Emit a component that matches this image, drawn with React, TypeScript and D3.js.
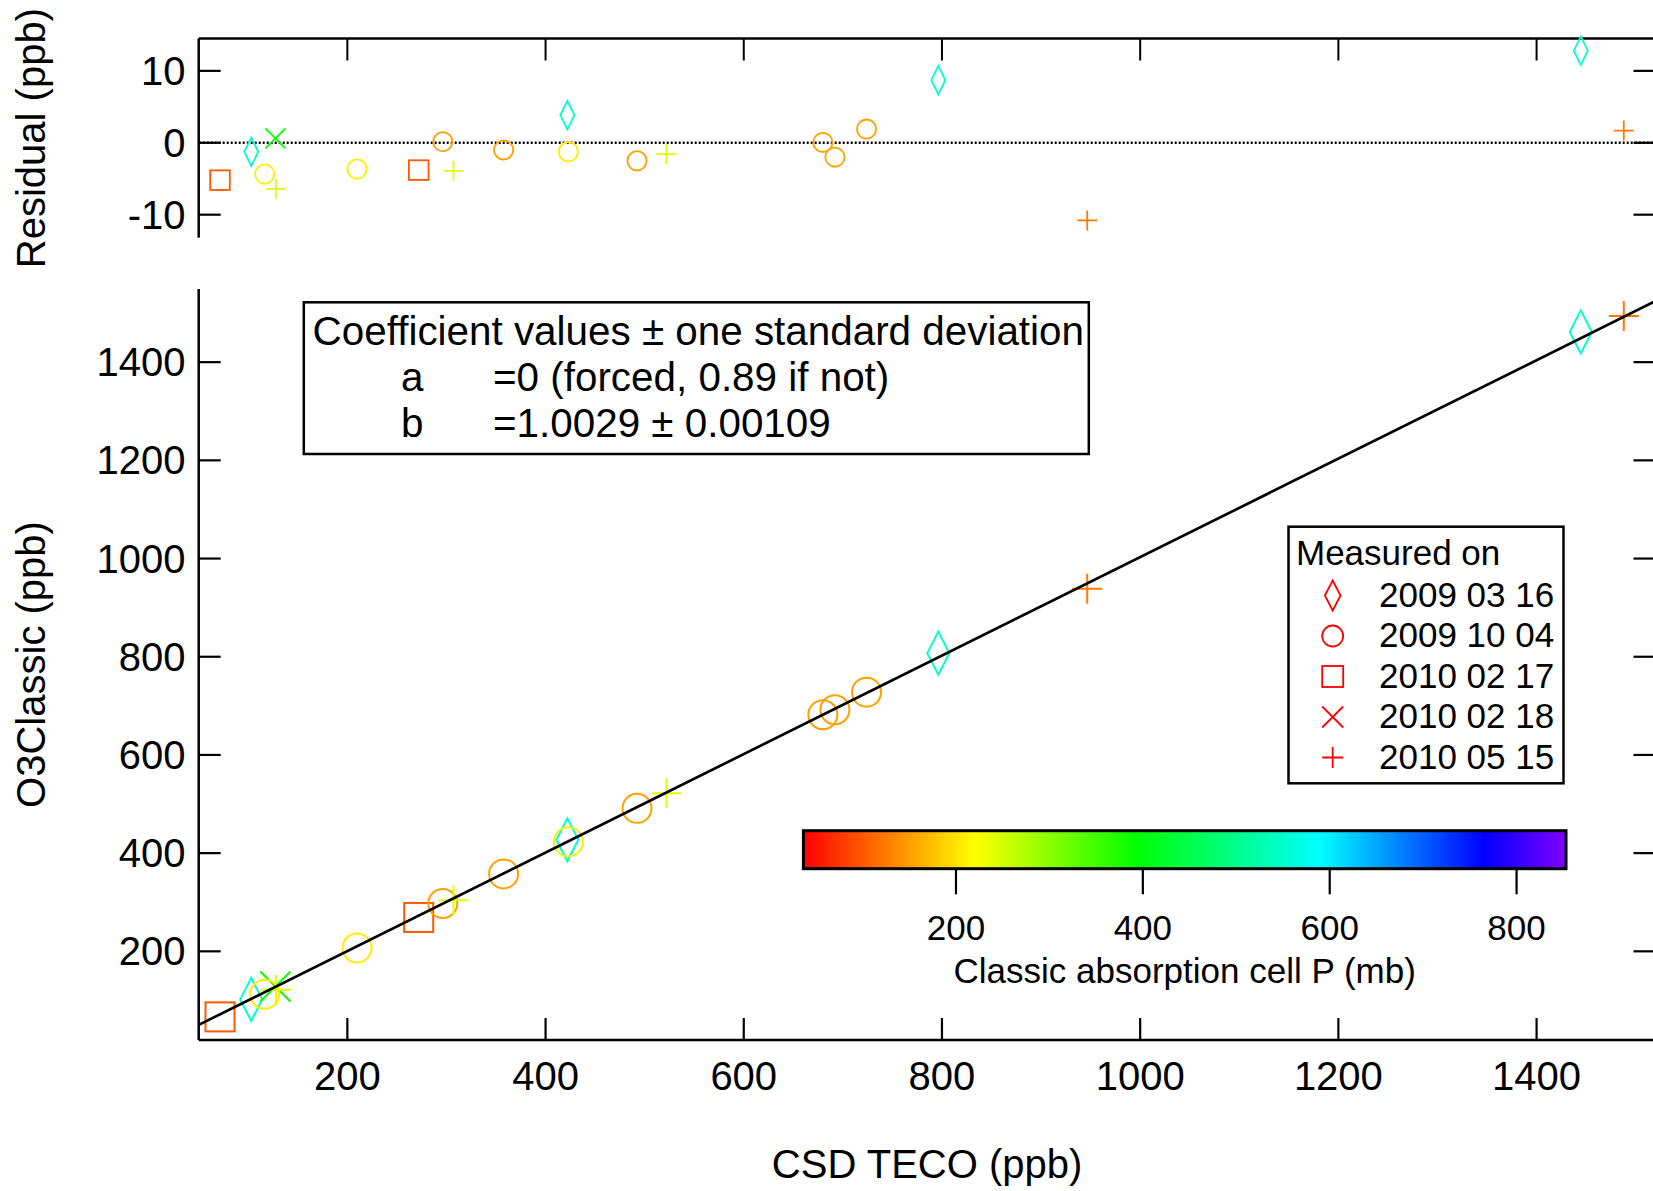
import React from "react";
import * as d3 from "d3";

// measurement dates (one symbol each)
const dates = ["2009 03 16", "2009 10 04", "2010 02 17", "2010 02 18", "2010 05 15"];
const shapes = ["diamond", "circle", "square", "cross", "plus"];

// points
const csdTeco = [71.5, 103, 127.4, 116.6, 127.9, 209.8, 272, 296.3, 307.1, 357.7, 422, 423, 492.3, 522, 679.8, 692, 723.9, 796.3, 946.6, 1444.6, 1488];
const o3Classic = [66.5, 102.1, 128.4, 112.6, 121.9, 206.8, 269.0, 297.3, 304.1, 357.7, 427.1, 423.0, 491.2, 521.9, 681.8, 692.0, 727.9, 807.3, 938.5, 1461.6, 1494.0];
const residual = [-5.2, -1.25, 0.6, -4.35, -6.4, -3.65, -3.8, 0.15, -3.9, -1.0, 3.85, -1.25, -2.5, -1.57, 0.05, -2.0, 1.9, 8.7, -10.8, 12.8, 1.7];
const dateIndex = [2, 0, 3, 1, 4, 1, 2, 1, 4, 1, 0, 1, 1, 4, 1, 1, 1, 0, 4, 0, 4];
const pressure = [100, 553, 385, 208, 241, 208, 100, 152, 241, 152, 553, 208, 152, 241, 152, 152, 152, 553, 124, 553, 124];

const slope = 1.0029;

const xTicks = [200, 400, 600, 800, 1000, 1200, 1400];
const yTicks = [200, 400, 600, 800, 1000, 1200, 1400];
const resTicks = [-10, 0, 10];
const pTicks = [200, 400, 600, 800];

// rainbow colour table stops (pressure, colour)
const rainbowStops = [37, 220, 393, 589, 765, 853];
const rainbowColors = ["#ff0000", "#ffff00", "#00ff00", "#00ffff", "#0000ff", "#8000ff"];

const FONT = "'Liberation Sans', Arial, Helvetica, sans-serif";

const W = 1653;
const H = 1191;

const x = d3.scaleLinear().domain([50, 1520]).range([198.7, 1655.5]);
const y = d3.scaleLinear().domain([19.4, 1549]).range([1040, 289]);
const yr = d3.scaleLinear().domain([-13.2, 14.5]).range([237.7, 38.5]);
const xp = d3.scaleLinear().domain([36.7, 852.9]).range([803.4, 1566]);
const color = d3.scaleLinear<string>().domain(rainbowStops).range(rainbowColors).interpolate(d3.interpolateRgb);

const mainSize = { r: 14.5, sq: 14.5, cr: 15, pl: 15, dw: 11, dh: 21.5 };
const resSize = { r: 9.6, sq: 9.8, cr: 10, pl: 10, dw: 7, dh: 14.3 };
const legSize = { r: 10.5, sq: 10.5, cr: 10.5, pl: 10.5, dw: 7.8, dh: 15 };

const Marker = ({ shape, cx, cy, s, stroke, sw }) => {
  const common = { fill: "none", stroke, strokeWidth: sw };
  if (shape === "circle") return <circle cx={cx} cy={cy} r={s.r} {...common} />;
  if (shape === "square")
    return <rect x={cx - s.sq} y={cy - s.sq} width={2 * s.sq} height={2 * s.sq} {...common} />;
  if (shape === "diamond")
    return (
      <path
        d={`M${cx},${cy - s.dh}L${cx + s.dw},${cy}L${cx},${cy + s.dh}L${cx - s.dw},${cy}Z`}
        {...common}
      />
    );
  if (shape === "cross")
    return (
      <path
        d={`M${cx - s.cr},${cy - s.cr}L${cx + s.cr},${cy + s.cr}M${cx - s.cr},${cy + s.cr}L${cx + s.cr},${cy - s.cr}`}
        {...common}
      />
    );
  return (
    <path d={`M${cx - s.pl},${cy}L${cx + s.pl},${cy}M${cx},${cy - s.pl}L${cx},${cy + s.pl}`} {...common} />
  );
};

const App = () => {
  const [x0, x1] = x.range();
  const tick = 22;
  const axisW = 2.5;
  const fitLine = d3.line<number>().x((d) => x(d)).y((d) => y(slope * d));

  return (
    <svg
      width={W}
      height={H}
      style={{ position: "absolute", left: 0, top: 0, background: "#fff" }}
      fontFamily={FONT}
    >
      <defs>
        <linearGradient id="rainbow" x1="0" x2="1" y1="0" y2="0">
          {rainbowStops.map((p, i) => (
            <stop
              key={i}
              offset={(xp(p) - xp.range()[0]) / (xp.range()[1] - xp.range()[0])}
              stopColor={rainbowColors[i]}
            />
          ))}
        </linearGradient>
      </defs>

      {/* ---------- residual panel ---------- */}
      <line x1={x0} x2={x1} y1={yr(0)} y2={yr(0)} stroke="#000" strokeWidth={2.5} strokeDasharray="2,2" />
      <line x1={x0} x2={x1} y1={yr.range()[1]} y2={yr.range()[1]} stroke="#000" strokeWidth={axisW} />
      <line x1={x0} x2={x0} y1={yr.range()[1]} y2={yr.range()[0]} stroke="#000" strokeWidth={axisW} />
      <line x1={x1} x2={x1} y1={yr.range()[1]} y2={yr.range()[0]} stroke="#000" strokeWidth={axisW} />
      {xTicks.map((t) => (
        <line key={t} x1={x(t)} x2={x(t)} y1={yr.range()[1]} y2={yr.range()[1] + tick} stroke="#000" strokeWidth={2} />
      ))}
      {resTicks.map((t) => (
        <g key={t}>
          <line x1={x0} x2={x0 + tick} y1={yr(t)} y2={yr(t)} stroke="#000" strokeWidth={2.2} />
          <line x1={x1 - tick} x2={x1} y1={yr(t)} y2={yr(t)} stroke="#000" strokeWidth={2.2} />
          <text x={185.5} y={yr(t) + 14} textAnchor="end" fontSize={40}>
            {t}
          </text>
        </g>
      ))}
      <text transform={`translate(44.6,${(yr.range()[0] + yr.range()[1]) / 2}) rotate(-90)`} textAnchor="middle" fontSize={40}>
        Residual (ppb)
      </text>
      {csdTeco.map((v, i) => (
        <Marker
          key={i}
          shape={shapes[dateIndex[i]]}
          cx={x(v)}
          cy={yr(residual[i])}
          s={resSize}
          stroke={color(pressure[i])}
          sw={1.8}
        />
      ))}

      {/* ---------- main panel ---------- */}
      <line x1={x0} x2={x0} y1={y.range()[1]} y2={y.range()[0]} stroke="#000" strokeWidth={axisW} />
      <line x1={x1} x2={x1} y1={y.range()[1]} y2={y.range()[0]} stroke="#000" strokeWidth={axisW} />
      <line x1={x0} x2={x1} y1={y.range()[0]} y2={y.range()[0]} stroke="#000" strokeWidth={axisW} />
      {xTicks.map((t) => (
        <g key={t}>
          <line x1={x(t)} x2={x(t)} y1={y.range()[0]} y2={y.range()[0] - tick} stroke="#000" strokeWidth={2.2} />
          <text x={x(t)} y={1090} textAnchor="middle" fontSize={40}>
            {t}
          </text>
        </g>
      ))}
      {yTicks.map((t) => (
        <g key={t}>
          <line x1={x0} x2={x0 + tick} y1={y(t)} y2={y(t)} stroke="#000" strokeWidth={2.2} />
          <line x1={x1 - tick} x2={x1} y1={y(t)} y2={y(t)} stroke="#000" strokeWidth={2.2} />
          <text x={185.5} y={y(t) + 14} textAnchor="end" fontSize={40}>
            {t}
          </text>
        </g>
      ))}
      <text transform={`translate(44.6,${(y.range()[0] + y.range()[1]) / 2}) rotate(-90)`} textAnchor="middle" fontSize={40}>
        O3Classic (ppb)
      </text>
      <text x={(x0 + x1) / 2} y={1178} textAnchor="middle" fontSize={40}>
        CSD TECO (ppb)
      </text>

      {csdTeco.map((v, i) => (
        <Marker
          key={i}
          shape={shapes[dateIndex[i]]}
          cx={x(v)}
          cy={y(o3Classic[i])}
          s={mainSize}
          stroke={color(pressure[i])}
          sw={2}
        />
      ))}
      <path d={fitLine(x.domain()) || ""} fill="none" stroke="#000" strokeWidth={2.7} />

      {/* coefficient box */}
      <rect x={303.8} y={302.3} width={785} height={151.7} fill="#fff" stroke="#000" strokeWidth={2.5} />
      <text fontSize={40.4}>
        <tspan x={312.6} y={345}>Coefficient values ± one standard deviation</tspan>
        <tspan x={401} y={391}>a</tspan>
        <tspan x={493} y={391}>=0 (forced, 0.89 if not)</tspan>
        <tspan x={401} y={437}>b</tspan>
        <tspan x={493} y={437}>=1.0029 ± 0.00109</tspan>
      </text>

      {/* legend */}
      <rect x={1288.5} y={526.7} width={275} height={256.6} fill="#fff" stroke="#000" strokeWidth={2.5} />
      <text x={1296} y={565} fontSize={35}>
        Measured on
      </text>
      {dates.map((d, i) => (
        <g key={d}>
          <Marker shape={shapes[i]} cx={1332.7} cy={595.5 + i * 40.5} s={legSize} stroke="#ff0000" sw={1.8} />
          <text x={1379} y={606.5 + i * 40.5} fontSize={35}>
            {d}
          </text>
        </g>
      ))}

      {/* colour scale */}
      <rect
        x={xp.range()[0]}
        y={830.7}
        width={xp.range()[1] - xp.range()[0]}
        height={38}
        fill="url(#rainbow)"
        stroke="#000"
        strokeWidth={3}
      />
      {pTicks.map((t) => (
        <g key={t}>
          <line x1={xp(t)} x2={xp(t)} y1={868.7} y2={894.3} stroke="#000" strokeWidth={2.2} />
          <text x={xp(t)} y={940} textAnchor="middle" fontSize={35}>
            {t}
          </text>
        </g>
      ))}
      <text x={(xp.range()[0] + xp.range()[1]) / 2} y={983} textAnchor="middle" fontSize={35}>
        Classic absorption cell P (mb)
      </text>
    </svg>
  );
};

export default App;
